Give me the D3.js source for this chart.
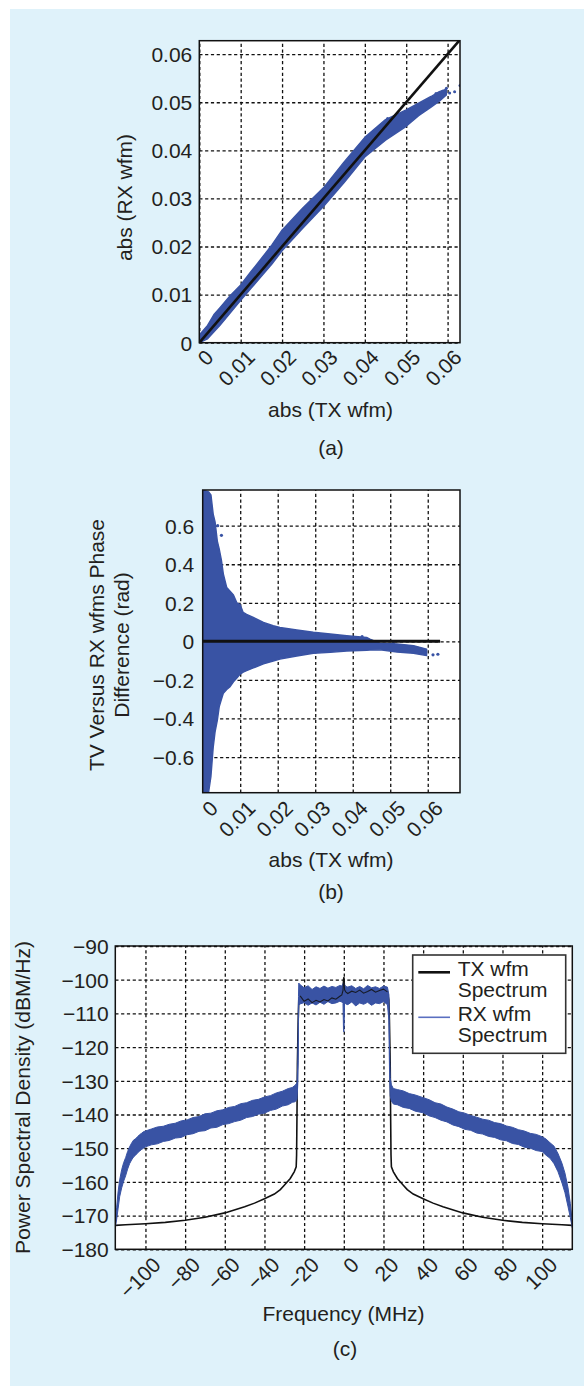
<!DOCTYPE html>
<html lang="en">
<head>
<meta charset="utf-8">
<title>TX / RX waveform comparison</title>
<script src="https://cdn.jsdelivr.net/npm/d3@7"></script>
<style>
  body { margin: 0; background: #fff; }
  text { font-family: "Liberation Sans", Arial, Helvetica, sans-serif; fill: #231f20; }
</style>
</head>
<body>
<svg id="fig" width="584" height="1386"></svg>
<script>
// ---------- panel (a): abs(RX) vs abs(TX) ----------
var ampTicks = [0, 0.01, 0.02, 0.03, 0.04, 0.05, 0.06];
var ampX  = [0, 0.002, 0.0035, 0.005, 0.0075, 0.01, 0.0125, 0.015, 0.0175, 0.02, 0.025, 0.03, 0.035, 0.04, 0.045, 0.05, 0.053, 0.056, 0.058, 0.0597];
var ampLo = [0, 0.0008, 0.0022, 0.0036, 0.0062, 0.0088, 0.0113, 0.0138, 0.0163, 0.0191, 0.0238, 0.0283, 0.0333, 0.0386, 0.0421, 0.0450, 0.0472, 0.0490, 0.0502, 0.0515];
var ampHi = [0.0016, 0.0036, 0.0058, 0.0073, 0.0098, 0.0120, 0.0148, 0.0175, 0.0203, 0.0234, 0.0280, 0.0322, 0.0376, 0.0427, 0.0464, 0.0484, 0.0498, 0.0512, 0.0522, 0.0527];
var ampDotX = [0.0455, 0.0572, 0.0588, 0.0597, 0.0605, 0.0617, 0.0630];
var ampDotY = [0.0466, 0.0518, 0.0523, 0.0529, 0.0519, 0.0522, 0.0535];
var ampRef = [0, 0.063];   // ideal y = x line

// ---------- panel (b): phase difference vs abs(TX) ----------
var phaseYTicks = [-0.6, -0.4, -0.2, 0, 0.2, 0.4, 0.6];
var phaseX  = [0, 0.0016, 0.0022, 0.0028, 0.0033, 0.0039, 0.0044, 0.0050, 0.0055, 0.0064, 0.0073, 0.0082, 0.0091, 0.0100, 0.0108, 0.0117, 0.0135, 0.0162, 0.0188, 0.0206, 0.0251, 0.0295, 0.0340, 0.0384, 0.0437, 0.0446, 0.0473, 0.0518, 0.0562, 0.0597];
var phaseHi = [0.785, 0.775, 0.76, 0.66, 0.62, 0.52, 0.48, 0.42, 0.35, 0.28, 0.26, 0.24, 0.20, 0.19, 0.15, 0.14, 0.124, 0.098, 0.081, 0.072, 0.059, 0.047, 0.038, 0.029, 0.020, 0.012, -0.010, -0.014, -0.022, -0.040];
var phaseLo = [-0.785, -0.78, -0.70, -0.55, -0.47, -0.41, -0.34, -0.30, -0.27, -0.25, -0.235, -0.21, -0.19, -0.17, -0.16, -0.152, -0.138, -0.117, -0.102, -0.092, -0.076, -0.062, -0.057, -0.050, -0.046, -0.045, -0.044, -0.055, -0.062, -0.074];
var phaseDotX = [0.0040, 0.0050, 0.0425, 0.0508, 0.0614, 0.0627];
var phaseDotY = [0.60, 0.55, 0.024, -0.010, -0.070, -0.067];
var phaseRef = [0, 0.0633];   // zero line extent

// ---------- panel (c): power spectral density ----------
var freqTicks = [-100, -80, -60, -40, -20, 0, 20, 40, 60, 80, 100];
var psdTicks = [-180, -170, -160, -150, -140, -130, -120, -110, -100, -90];

var txLeftFreq = [-115.2, -110, -100, -90, -80, -70, -60, -50, -45, -40, -35, -32, -30, -27, -25, -24, -23.8, -23.6, -23.4, -23.0, -22.7];
var txLeftDb   = [-172.9, -172.7, -172.4, -172.0, -171.4, -170.5, -169.2, -167.4, -166.3, -165.0, -163.6, -162.3, -161.0, -159.0, -157.0, -155.5, -152.0, -140.0, -125.0, -112.0, -106.0];
var txRightFreq = [22.7, 23.0, 23.4, 23.6, 23.8, 24, 25, 27, 30, 32, 35, 40, 45, 50, 60, 70, 80, 90, 100, 110, 115.2];
var txRightDb   = [-106.0, -112.0, -125.0, -140.0, -152.0, -155.5, -157.0, -159.0, -161.0, -162.3, -163.6, -165.0, -166.3, -167.4, -169.2, -170.5, -171.4, -172.0, -172.4, -172.7, -172.9];

var passFreq  = [-22, -20, -18, -16, -14, -12, -10, -8, -6, -4, -2, -1, -0.4, -0.15, 0, 0.15, 0.4, 1, 2, 4, 6, 8, 10, 12, 14, 16, 18, 20, 22];
var txPass    = [-104.8, -106.4, -105.7, -106.8, -106.1, -106.6, -105.9, -106.3, -105.4, -105.8, -104.9, -104.5, -103.2, -100.5, -99.3, -100.2, -103.0, -103.6, -104.1, -103.4, -103.8, -103.1, -104.0, -103.5, -102.9, -103.7, -103.2, -102.8, -103.6];
var rxPassLo  = [-107.2, -106.8, -107.6, -106.9, -107.5, -106.7, -107.3, -106.5, -107.1, -106.9, -106.4, -106.6, -107.0, -115.0, -115.5, -114.0, -106.8, -107.2, -107.4, -106.6, -107.8, -106.9, -107.3, -106.7, -107.6, -106.9, -107.1, -106.5, -107.4];
var rxPassHi  = [-101.5, -102.4, -101.8, -102.9, -102.1, -102.6, -101.9, -102.5, -102.0, -102.3, -101.7, -101.9, -101.2, -101.0, -100.8, -101.3, -101.5, -102.0, -102.2, -101.8, -102.6, -102.0, -102.7, -101.7, -102.4, -102.1, -102.6, -101.9, -102.2];

var rxLeftFreq = [-115.2, -114.5, -113.8, -113, -112, -111, -110, -109, -108, -107, -106, -105, -104, -103, -102, -101, -100, -97, -94, -91, -88, -85, -82, -79, -76, -73, -70, -67, -64, -61, -58, -55, -52, -49, -46, -43, -40, -37, -34, -31, -28, -26, -24.5, -23.6, -23.2, -23.0, -22.85, -22.7];
var rxLeftLo = [-173.6, -171.0, -168.0, -164.4, -161.8, -159.8, -158.2, -156.2, -154.6, -153.5, -152.6, -152.1, -151.4, -150.9, -150.4, -150.0, -149.6, -149.0, -148.7, -148.0, -147.7, -147.0, -146.8, -146.0, -145.7, -145.0, -144.8, -144.0, -143.8, -143.0, -142.7, -142.1, -141.7, -140.9, -140.6, -139.9, -139.6, -138.8, -138.4, -137.5, -137.1, -136.4, -136.2, -135.5, -131.0, -124.0, -113.0, -107.5];
var rxLeftHi = [-172.0, -167.5, -163.0, -159.4, -156.4, -154.3, -152.8, -151.0, -149.6, -148.5, -147.6, -147.2, -146.6, -146.0, -145.6, -145.1, -144.9, -144.3, -143.7, -143.5, -142.9, -142.6, -141.9, -141.6, -140.9, -140.6, -139.8, -139.6, -138.9, -138.6, -137.9, -137.6, -136.8, -136.5, -135.8, -135.5, -134.8, -134.4, -133.6, -133.1, -132.3, -132.0, -131.3, -130.6, -125.0, -116.0, -105.0, -101.0];
var rxRightFreq = [22.75, 22.9, 23.1, 23.4, 24, 25, 27, 30, 33, 36, 40, 43, 46, 49, 52, 55, 58, 61, 64, 67, 70, 73, 76, 79, 82, 85, 88, 91, 94, 97, 100, 102, 104, 106, 108, 110, 111.5, 113, 114.2, 115.2];
var rxRightLo = [-112.0, -121.0, -129.0, -134.5, -136.0, -136.9, -137.1, -137.9, -138.2, -139.0, -139.5, -140.4, -140.9, -141.7, -142.2, -143.1, -143.6, -144.4, -144.7, -145.5, -145.8, -146.5, -146.8, -147.5, -147.8, -148.6, -148.9, -149.7, -150.0, -150.7, -151.0, -152.1, -153.0, -154.6, -157.0, -160.3, -163.2, -167.2, -170.6, -173.6];
var rxRightHi = [-104.5, -113.0, -122.0, -129.0, -131.2, -132.3, -132.6, -133.0, -133.8, -134.2, -135.0, -135.6, -136.5, -136.9, -137.8, -138.4, -139.2, -139.6, -140.3, -140.8, -141.4, -141.7, -142.4, -142.7, -143.4, -143.8, -144.5, -144.9, -145.6, -145.9, -146.6, -147.3, -148.4, -149.4, -151.6, -154.5, -157.4, -161.6, -166.4, -172.0];

var legendLabels = [["TX wfm", "Spectrum"], ["RX wfm", "Spectrum"]];

var blue = "#3953a4";
var fs = 21;

var svg = d3.select("#fig");
svg.append("rect").attr("x", 10).attr("y", 9).attr("width", 574).attr("height", 1377).attr("fill", "#dff2fa");

function zip3(xs, a, b) {
  return xs.map(function(v, i) { return {x: v, lo: a[i], hi: b[i]}; });
}

function makePanel(id, box, xDom, yDom, xTicks, yTicks, fx, fy, yGap, rot) {
  var x = d3.scaleLinear().domain(xDom).range([box.l, box.r]);
  var y = d3.scaleLinear().domain(yDom).range([box.b, box.t]);

  svg.append("clipPath").attr("id", "clip" + id)
    .append("rect").attr("x", box.l).attr("y", box.t).attr("width", box.r - box.l).attr("height", box.b - box.t);

  svg.append("rect").attr("x", box.l).attr("y", box.t).attr("width", box.r - box.l).attr("height", box.b - box.t).attr("fill", "#fff");

  var gx = svg.append("g").attr("transform", "translate(0," + box.b + ")")
    .call(d3.axisBottom(x).tickValues(xTicks).tickFormat(fx).tickSize(-(box.b - box.t)).tickSizeOuter(0));
  var gy = svg.append("g").attr("transform", "translate(" + box.l + ",0)")
    .call(d3.axisLeft(y).tickValues(yTicks).tickFormat(fy).tickSize(-(box.r - box.l)).tickSizeOuter(0));
  [gx, gy].forEach(function(g) {
    g.attr("font-size", null).attr("font-family", null);
    g.select(".domain").remove();
    g.selectAll(".tick line").attr("stroke", "#111").attr("stroke-width", 1.3).attr("stroke-dasharray", "3.2,2.6");
    g.selectAll(".tick text").attr("fill", "#231f20").style("font-size", fs + "px");
  });
  gx.selectAll(".tick text").attr("x", 0).attr("y", 0).attr("dy", null)
    .attr("text-anchor", "end")
    .attr("transform", "translate(" + rot[0] + "," + rot[1] + ") rotate(-45)");
  gy.selectAll(".tick text").attr("x", -yGap).attr("dy", "0.35em");

  var data = svg.append("g").attr("clip-path", "url(#clip" + id + ")");
  var front = svg.append("g");
  front.append("rect").attr("x", box.l).attr("y", box.t).attr("width", box.r - box.l).attr("height", box.b - box.t)
    .attr("fill", "none").attr("stroke", "#111").attr("stroke-width", 1.5);
  return {x: x, y: y, data: data, front: front};
}

function label(txt, x, y, rotate) {
  return svg.append("text").attr("text-anchor", "middle").style("font-size", fs + "px")
    .attr("transform", "translate(" + x + "," + y + ")" + (rotate ? " rotate(-90)" : ""))
    .text(txt);
}

var f2 = function(d) { return d === 0 ? "0" : d3.format(".2f")(d); };
var f1 = function(d) { return d === 0 ? "0" : d3.format(".1f")(d); };

// ----- (a)
var A = makePanel("a", {l: 199.3, r: 460, t: 40.7, b: 342.7}, [0, 0.063], [0, 0.0628], ampTicks, ampTicks, f2, f2, 7, [15, 16]);
A.data.append("path").datum(zip3(ampX, ampLo, ampHi))
  .attr("d", d3.area().x(function(d) { return A.x(d.x); }).y0(function(d) { return A.y(d.lo); }).y1(function(d) { return A.y(d.hi); }))
  .attr("fill", blue).attr("stroke", blue).attr("stroke-width", 1.4).attr("stroke-linejoin", "round");
A.data.selectAll("circle").data(ampDotX).enter().append("circle")
  .attr("cx", function(d) { return A.x(d); }).attr("cy", function(d, i) { return A.y(ampDotY[i]); })
  .attr("r", 1.5).attr("fill", blue);
A.data.append("path").datum(ampRef)
  .attr("d", d3.line().x(function(d) { return A.x(d); }).y(function(d) { return A.y(d); }))
  .attr("stroke", "#111").attr("stroke-width", 2.6).attr("fill", "none");
label("abs (TX wfm)", 330.5, 417);
label("(a)", 331, 455);
label("abs (RX wfm)", 132, 197.5, true);

// ----- (b)
var B = makePanel("b", {l: 202.7, r: 460, t: 490, b: 792.7}, [0, 0.0686], [-0.785, 0.785], ampTicks, phaseYTicks, f2, f1, 8.5, [16, 17]);
B.data.append("path").datum(zip3(phaseX, phaseLo, phaseHi))
  .attr("d", d3.area().x(function(d) { return B.x(d.x); }).y0(function(d) { return B.y(d.lo); }).y1(function(d) { return B.y(d.hi); }))
  .attr("fill", blue).attr("stroke", blue).attr("stroke-width", 1.4).attr("stroke-linejoin", "round");
B.data.selectAll("circle").data(phaseDotX).enter().append("circle")
  .attr("cx", function(d) { return B.x(d); }).attr("cy", function(d, i) { return B.y(phaseDotY[i]); })
  .attr("r", 1.6).attr("fill", blue);
B.data.append("path").datum(phaseRef)
  .attr("d", d3.line().x(function(d) { return B.x(d); }).y(function() { return B.y(0); }))
  .attr("stroke", "#111").attr("stroke-width", 3).attr("fill", "none");
label("abs (TX wfm)", 331, 867);
label("(b)", 331, 899);
label("TV Versus RX wfms Phase", 104, 645, true);
label("Difference (rad)", 129, 645, true);

// ----- (c)
var C = makePanel("c", {l: 115.3, r: 572.3, t: 946, b: 1249.3}, [-115.2, 115.2], [-180, -90], freqTicks, psdTicks, d3.format("d"), d3.format("d"), 6.6, [16, 17]);
var txAll = [];
txLeftFreq.forEach(function(f, i) { txAll.push([f, txLeftDb[i]]); });
passFreq.forEach(function(f, i) { txAll.push([f, txPass[i]]); });
txRightFreq.forEach(function(f, i) { txAll.push([f, txRightDb[i]]); });
var rxAll = zip3(rxLeftFreq, rxLeftLo, rxLeftHi)
  .concat(zip3(passFreq, rxPassLo, rxPassHi))
  .concat(zip3(rxRightFreq, rxRightLo, rxRightHi));

var lineC = d3.line().x(function(d) { return C.x(d[0]); }).y(function(d) { return C.y(d[1]); });
C.data.append("path").datum(txAll).attr("d", lineC)
  .attr("stroke", "#111").attr("stroke-width", 1.6).attr("fill", "none");
C.data.append("path").datum(rxAll)
  .attr("d", d3.area().x(function(d) { return C.x(d.x); }).y0(function(d) { return C.y(d.lo); }).y1(function(d) { return C.y(d.hi); }))
  .attr("fill", blue).attr("stroke", blue).attr("stroke-width", 1).attr("stroke-linejoin", "round");
C.data.append("path").datum(passFreq.map(function(f, i) { return [f, txPass[i]]; })).attr("d", lineC)
  .attr("stroke", "#111").attr("stroke-width", 1.1).attr("fill", "none").attr("opacity", 0.85);

var leg = svg.append("g");
leg.append("rect").attr("x", 412.7).attr("y", 955).attr("width", 153).attr("height", 98.3)
  .attr("fill", "#fff").attr("stroke", "#333").attr("stroke-width", 1.6);
var legColors = ["#111", "#5a6fc0"];
var legWidths = [2.6, 1.6];
legendLabels.forEach(function(lines, i) {
  var y0 = 972.3 + i * 45;
  leg.append("line").attr("x1", 418.3).attr("x2", 450).attr("y1", y0).attr("y2", y0)
    .attr("stroke", legColors[i]).attr("stroke-width", legWidths[i]);
  lines.forEach(function(t, j) {
    leg.append("text").attr("x", 457.7).attr("y", y0 + 4 + j * 20.8).style("font-size", fs + "px").text(t);
  });
});

label("Frequency (MHz)", 343.5, 1320.7);
label("(c)", 345, 1356);
label("Power Spectral Density (dBM/Hz)", 29.5, 1097.5, true);
</script>
</body>
</html>
